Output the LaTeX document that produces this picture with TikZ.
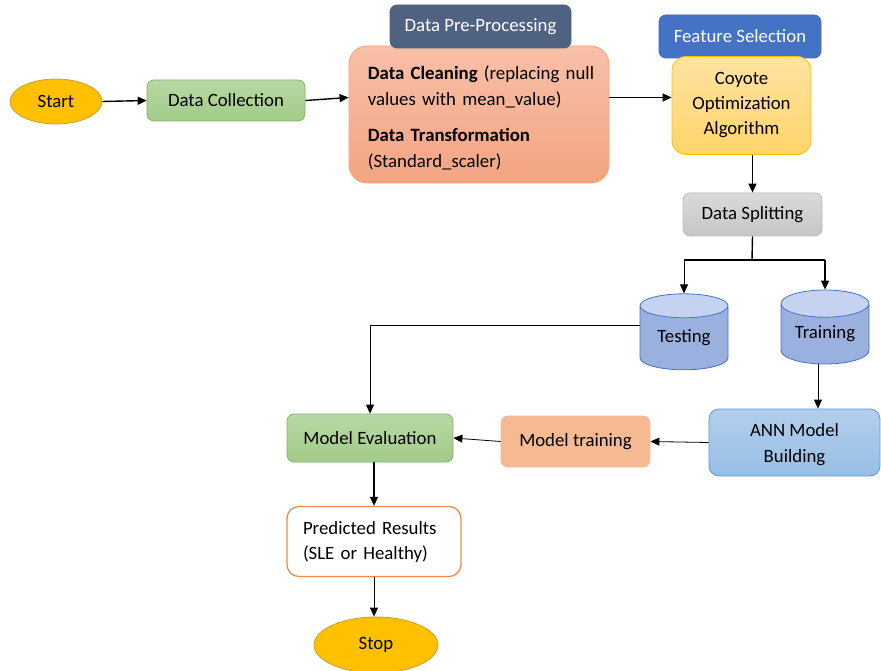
\documentclass[tikz,border=0pt]{standalone}
\usepackage{fontspec}
\setmainfont{Carlito}
\usetikzlibrary{arrows.meta,shapes.geometric,calc}
\definecolor{startF}{HTML}{FFC000}
\definecolor{startB}{HTML}{C9A227}
\definecolor{greenT}{HTML}{B8D8A4}
\definecolor{greenBt}{HTML}{A2CB88}
\definecolor{greenB}{HTML}{82B366}
\definecolor{hdrF}{HTML}{506282}
\definecolor{ppT}{HTML}{F8C0A8}
\definecolor{ppBt}{HTML}{F4A482}
\definecolor{ppB}{HTML}{F2A27E}
\definecolor{fsF}{HTML}{4472C4}
\definecolor{fsB}{HTML}{3F6AB8}
\definecolor{coyT}{HTML}{FFE3A0}
\definecolor{coyBt}{HTML}{FFD46A}
\definecolor{coyB}{HTML}{FFC000}
\definecolor{dsT}{HTML}{DADADA}
\definecolor{dsBt}{HTML}{C6C6C6}
\definecolor{dsB}{HTML}{BDBDBD}
\definecolor{cylBody}{HTML}{9AB1E0}
\definecolor{cylEnd}{HTML}{C6D3F0}
\definecolor{cylB}{HTML}{4472C4}
\definecolor{annT}{HTML}{B3CFEC}
\definecolor{annBt}{HTML}{98BEE5}
\definecolor{annB}{HTML}{5B9BD5}
\definecolor{mtF}{HTML}{F5BA92}
\definecolor{prB}{HTML}{F08A4B}
\begin{document}
\begin{tikzpicture}[x=1pt,y=-1pt,
  font=\fontsize{18.8}{22}\selectfont,
  box/.style={rectangle, rounded corners=7pt, line width=0.8pt, inner sep=0pt, align=center},
  oval/.style={ellipse, draw=startB, fill=startF, line width=0.8pt, inner sep=0pt},
  cyl/.style={cylinder, shape border rotate=90, shape aspect=0.45, draw=cylB, line width=0.8pt,
    cylinder uses custom fill, cylinder body fill=cylBody, cylinder end fill=cylEnd, inner sep=0pt},
  arr/.style={-{Triangle[length=9pt,width=8pt]}, line width=1.4pt},
  thinarr/.style={-{Triangle[length=9pt,width=8pt]}, line width=0.8pt}
]
\useasboundingbox (0,0) rectangle (881,671);

\node[oval, minimum width=92pt, minimum height=45pt] (start) at (56,101.5) {Start};
\node[box, draw=greenB, top color=greenT, bottom color=greenBt, minimum width=158pt, minimum height=41pt] (dc) at (226,100.5) {Data Collection};

\node[box, rounded corners=18pt, draw=ppB, top color=ppT, bottom color=ppBt, minimum width=260pt, minimum height=137pt] (pp) at (479,114.5) {};
\node[inner sep=0pt, text width=236pt, align=left, anchor=west, font=\fontsize{18.8}{26}\selectfont] (pptxt) at ([xshift=19pt,yshift=-3pt]pp.west)
  {\textbf{Data Cleaning} (replacing null\\ values with mean\_value)\\[10pt]\textbf{Data Transformation}\\(Standard\_scaler)};
\node[box, draw=hdrF, fill=hdrF, text=white, minimum width=181pt, minimum height=43pt] (pph) at (480.5,26.5) {Data Pre-Processing};

\node[box, draw=fsB, fill=fsF, text=white, minimum width=162pt, minimum height=43pt] (fs) at (740,36.5) {Feature Selection};
\node[box, rounded corners=14pt, draw=coyB, top color=coyT, bottom color=coyBt, minimum width=139pt, minimum height=98pt, font=\fontsize{18.8}{25}\selectfont] (coy) at (741.5,105.5) {Coyote\\Optimization\\Algorithm};

\node[box, draw=dsB, top color=dsT, bottom color=dsBt, minimum width=139pt, minimum height=43pt] (ds) at (752.5,214.5) {Data Splitting};

\node[cyl, minimum width=88pt, minimum height=76pt] (test) at (684,338) {Testing};
\node[cyl, minimum width=88pt, minimum height=74pt] (train) at (825,334) {Training};

\node[box, rounded corners=10pt, draw=annB, top color=annT, bottom color=annBt, minimum width=171pt, minimum height=67pt] (ann) at (794.5,442.5) {};
\node[inner sep=0pt, align=center, font=\fontsize{18.8}{26}\selectfont] (anntxt) at ([yshift=-2.5pt]ann.center) {ANN Model\\Building};
\node[box, draw=mtF, fill=mtF, minimum width=149pt, minimum height=51pt] (mt) at (575.5,441.5) {Model training};
\node[box, draw=greenB, top color=greenT, bottom color=greenBt, minimum width=166pt, minimum height=48pt] (me) at (370,438) {Model Evaluation};
\node[box, rounded corners=12pt, draw=prB, fill=white, line width=1.3pt, minimum width=174pt, minimum height=70pt, text width=142pt, align=left, font=\fontsize{18.8}{25}\selectfont] (pr) at (374,541.5) {Predicted Results\\(SLE or Healthy)};
\node[oval, minimum width=124pt, minimum height=56pt] (stop) at (376,645) {Stop};

\coordinate (split) at (752,260);

\draw[arr] (start.east) -- (dc.west);
\draw[arr] (dc.east) -- ([yshift=17pt]pp.west);
\draw[arr] ([yshift=17pt]pp.east) -- ([yshift=17pt]pp.east -| coy.west);
\draw[arr] (ds.north |- coy.south) -- (ds.north);
\draw[line width=1.4pt] (ds.south) -- (split);
\draw[line width=1.4pt] (split -| test.north) -- (split -| train.north);
\draw[thinarr] (split -| test.north) -- (test.north);
\draw[arr] (split -| train.north) -- (train.north);
\draw[thinarr] ([yshift=13pt]test.west) -| (me.north);
\draw[thinarr] ([xshift=-7pt]train.south) -- ([xshift=-7pt]train.south |- ann.north);
\draw[thinarr] (ann.west) -- (mt.east);
\draw[thinarr] (mt.west) -- (me.east);
\draw[arr] (pr.north |- me.south) -- (pr.north);
\draw[thinarr] (pr.south) -- (pr.south |- stop.north);
\end{tikzpicture}
\end{document}
